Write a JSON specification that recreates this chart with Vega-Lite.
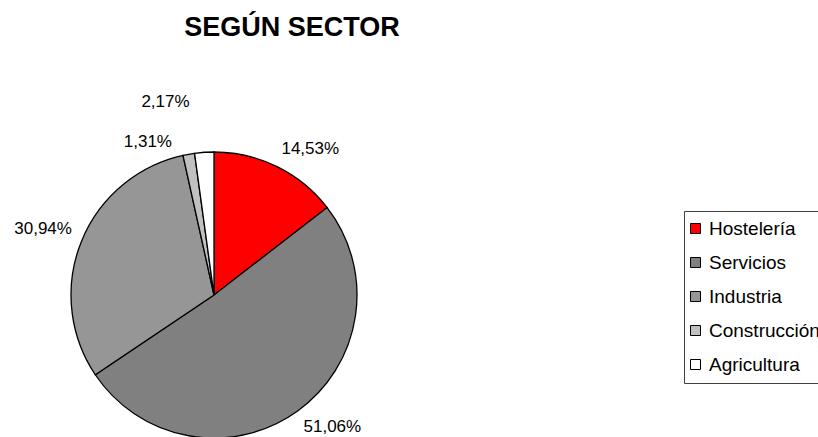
{
  "$schema": "https://vega.github.io/schema/vega-lite/v6.json",
  "autosize": {"type": "none"},
  "width": 428,
  "height": 284,
  "padding": {"left": 0, "top": 153, "right": 390, "bottom": 0},
  "background": "white",
  "title": {
    "text": "SEGÚN SECTOR",
    "anchor": "middle",
    "frame": "group",
    "font": "Liberation Sans",
    "fontSize": 27,
    "fontWeight": "bold",
    "color": "black",
    "baseline": "alphabetic",
    "dx": 78,
    "offset": 30
  },
  "data": {
    "values": [
      {"sector": "Hostelería", "value": 14.53, "label": "14,53%", "orden": 1},
      {"sector": "Servicios", "value": 51.06, "label": "51,06%", "orden": 2},
      {"sector": "Industria", "value": 30.94, "label": "30,94%", "orden": 3},
      {"sector": "Construcción", "value": 1.31, "label": "1,31%", "orden": 4},
      {"sector": "Agricultura", "value": 2.17, "label": "2,17%", "orden": 5}
    ]
  },
  "layer": [
    {
      "mark": {"type": "arc", "radius": 143, "stroke": "black", "strokeWidth": 1.3},
      "encoding": {
        "theta": {"field": "value", "type": "quantitative", "stack": true},
        "order": {"field": "orden", "type": "quantitative"},
        "color": {
          "field": "sector",
          "type": "nominal",
          "scale": {
            "domain": ["Hostelería", "Servicios", "Industria", "Construcción", "Agricultura"],
            "range": ["#ff0000", "#808080", "#969696", "#c0c0c0", "#ffffff"]
          },
          "legend": {
            "title": null,
            "orient": "none",
            "legendX": 684,
            "legendY": 58,
            "strokeColor": "#404040",
            "fillColor": "white",
            "padding": 8,
            "symbolType": "square",
            "symbolSize": 100,
            "symbolStrokeColor": "black",
            "symbolStrokeWidth": 1,
            "symbolOpacity": 1,
            "symbolOffset": -6,
            "labelFont": "Liberation Sans",
            "labelFontSize": 19,
            "labelColor": "black",
            "labelLimit": 300,
            "labelOffset": 4,
            "rowPadding": 14
          }
        }
      }
    },
    {
      "mark": {"type": "text", "radius": 153, "align": "left", "baseline": "bottom", "font": "Liberation Sans", "fontSize": 17, "color": "black"},
      "encoding": {
        "theta": {"field": "value", "type": "quantitative", "stack": true},
        "order": {"field": "orden", "type": "quantitative"},
        "text": {"condition": {"test": "datum.sector === 'Hostelería'", "field": "label"}, "value": ""}
      }
    },
    {
      "mark": {"type": "text", "radius": 153, "align": "left", "baseline": "top", "font": "Liberation Sans", "fontSize": 17, "color": "black"},
      "encoding": {
        "theta": {"field": "value", "type": "quantitative", "stack": true},
        "order": {"field": "orden", "type": "quantitative"},
        "text": {"condition": {"test": "datum.sector === 'Servicios'", "field": "label"}, "value": ""}
      }
    },
    {
      "mark": {"type": "text", "radius": 153, "align": "right", "baseline": "bottom", "font": "Liberation Sans", "fontSize": 17, "color": "black"},
      "encoding": {
        "theta": {"field": "value", "type": "quantitative", "stack": true},
        "order": {"field": "orden", "type": "quantitative"},
        "text": {"condition": {"test": "datum.sector === 'Industria'", "field": "label"}, "value": ""}
      }
    },
    {
      "mark": {"type": "text", "radius": 153, "align": "right", "baseline": "middle", "dx": -15, "dy": -2, "font": "Liberation Sans", "fontSize": 17, "color": "black"},
      "encoding": {
        "theta": {"field": "value", "type": "quantitative", "stack": true},
        "order": {"field": "orden", "type": "quantitative"},
        "text": {"condition": {"test": "datum.sector === 'Construcción'", "field": "label"}, "value": ""}
      }
    },
    {
      "mark": {"type": "text", "radius": 153, "align": "right", "baseline": "middle", "dx": -14, "dy": -40, "font": "Liberation Sans", "fontSize": 17, "color": "black"},
      "encoding": {
        "theta": {"field": "value", "type": "quantitative", "stack": true},
        "order": {"field": "orden", "type": "quantitative"},
        "text": {"condition": {"test": "datum.sector === 'Agricultura'", "field": "label"}, "value": ""}
      }
    }
  ],
  "config": {"view": {"stroke": null}}
}
